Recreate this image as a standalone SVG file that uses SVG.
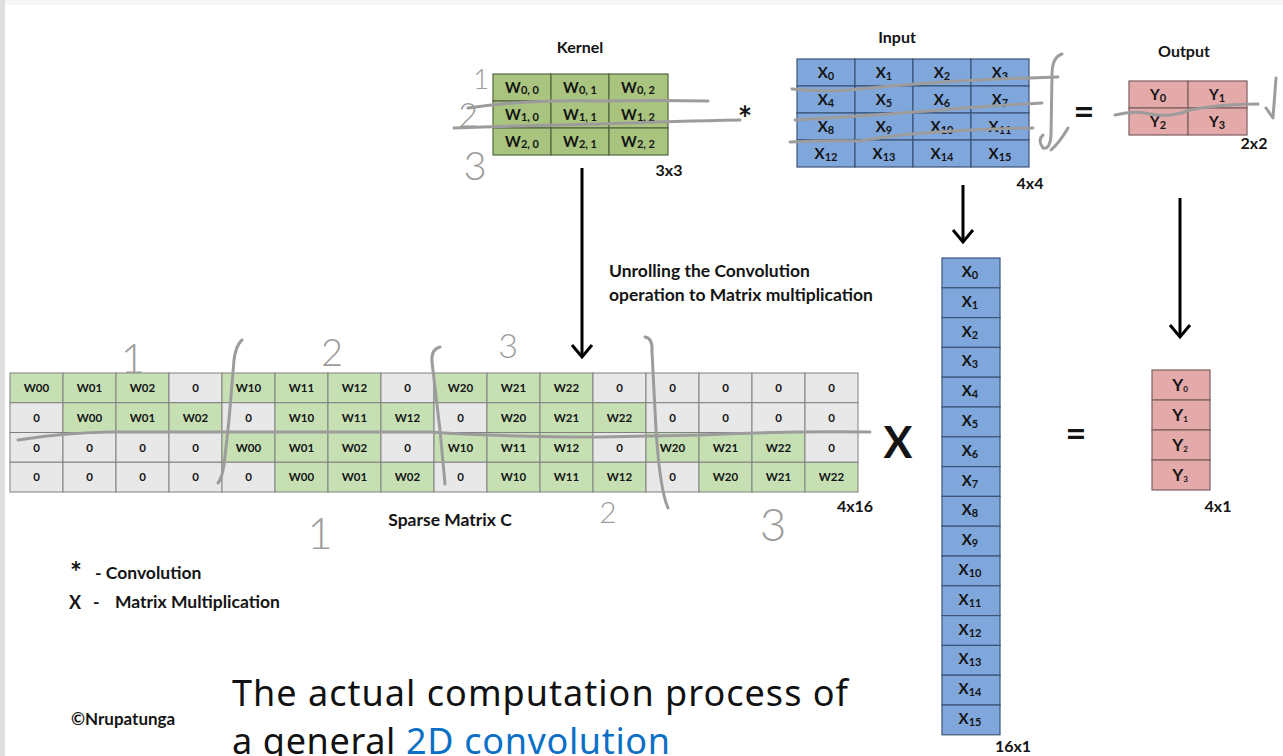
<svg xmlns="http://www.w3.org/2000/svg" width="1283" height="756" viewBox="0 0 1283 756">
<style>
.t{font-family:Lato,"Liberation Sans",sans-serif;font-weight:700;fill:#141414}
.m{text-anchor:middle}
.c{font-size:11.5px}
.k{font-size:15px}
.s{font-size:11px}
.lb{font-size:17.5px}
.h{font-size:16px}
.sg{fill:#c6e0b4;stroke:#808080;stroke-width:1}
.sz{fill:#e8e8e8;stroke:#808080;stroke-width:1}
.kg{fill:#a9c47f;stroke:#55663f;stroke-width:1.2}
.bl{fill:#80a7dc;stroke:#3b5478;stroke-width:1.2}
.pk{fill:#e4a9a9;stroke:#7b6060;stroke-width:1.2}
.hw{fill:none;stroke:#9c9c9c;stroke-width:3;stroke-linecap:round;stroke-linejoin:round}
.hd{font-family:Lato,"DejaVu Sans",sans-serif;font-weight:300;fill:#9c9c9c;text-anchor:middle}
.ar{fill:none;stroke:#000;stroke-width:3}
.cap{font-family:"Noto Sans","Open Sans",sans-serif;font-size:36px;fill:#111}
</style>
<defs>
<marker id="ah" markerUnits="userSpaceOnUse" markerWidth="16" markerHeight="24" refX="13" refY="12" orient="auto" overflow="visible">
<path d="M1,2 L13,12 L1,22" fill="none" stroke="#000" stroke-width="3"/>
</marker>
</defs>
<rect x="0" y="0" width="1283" height="756" fill="#fff"/>
<rect x="0" y="0" width="1283" height="5" fill="#f6f6f6"/>
<rect x="0" y="0" width="5" height="756" fill="#dedede"/>

<g id="kernel">
<text class="t m h" x="580" y="53">Kernel</text>
<rect class="kg" x="493" y="74" width="58" height="27"/><rect class="kg" x="551" y="74" width="58" height="27"/><rect class="kg" x="609" y="74" width="59" height="27"/>
<rect class="kg" x="493" y="101" width="58" height="27"/><rect class="kg" x="551" y="101" width="58" height="27"/><rect class="kg" x="609" y="101" width="59" height="27"/>
<rect class="kg" x="493" y="128" width="58" height="27"/><rect class="kg" x="551" y="128" width="58" height="27"/><rect class="kg" x="609" y="128" width="59" height="27"/>
<text class="t m k" x="522" y="93">W<tspan class="s" dy="1">0, 0</tspan></text>
<text class="t m k" x="580" y="93">W<tspan class="s" dy="1">0, 1</tspan></text>
<text class="t m k" x="638" y="93">W<tspan class="s" dy="1">0, 2</tspan></text>
<text class="t m k" x="522" y="120">W<tspan class="s" dy="1">1, 0</tspan></text>
<text class="t m k" x="580" y="120">W<tspan class="s" dy="1">1, 1</tspan></text>
<text class="t m k" x="638" y="120">W<tspan class="s" dy="1">1, 2</tspan></text>
<text class="t m k" x="522" y="147">W<tspan class="s" dy="1">2, 0</tspan></text>
<text class="t m k" x="580" y="147">W<tspan class="s" dy="1">2, 1</tspan></text>
<text class="t m k" x="638" y="147">W<tspan class="s" dy="1">2, 2</tspan></text>
<text class="t m h" x="669" y="176">3x3</text>
</g>

<g id="input">
<text class="t m h" x="897" y="43">Input</text>
<rect class="bl" x="797" y="59" width="58" height="27"/><rect class="bl" x="855" y="59" width="58" height="27"/><rect class="bl" x="913" y="59" width="58" height="27"/><rect class="bl" x="971" y="59" width="58" height="27"/>
<rect class="bl" x="797" y="86" width="58" height="27"/><rect class="bl" x="855" y="86" width="58" height="27"/><rect class="bl" x="913" y="86" width="58" height="27"/><rect class="bl" x="971" y="86" width="58" height="27"/>
<rect class="bl" x="797" y="113" width="58" height="27"/><rect class="bl" x="855" y="113" width="58" height="27"/><rect class="bl" x="913" y="113" width="58" height="27"/><rect class="bl" x="971" y="113" width="58" height="27"/>
<rect class="bl" x="797" y="140" width="58" height="27"/><rect class="bl" x="855" y="140" width="58" height="27"/><rect class="bl" x="913" y="140" width="58" height="27"/><rect class="bl" x="971" y="140" width="58" height="27"/>
<text class="t m k" x="826" y="78">X<tspan class="s" dy="2">0</tspan></text>
<text class="t m k" x="884" y="78">X<tspan class="s" dy="2">1</tspan></text>
<text class="t m k" x="942" y="78">X<tspan class="s" dy="2">2</tspan></text>
<text class="t m k" x="1000" y="78">X<tspan class="s" dy="2">3</tspan></text>
<text class="t m k" x="826" y="105">X<tspan class="s" dy="2">4</tspan></text>
<text class="t m k" x="884" y="105">X<tspan class="s" dy="2">5</tspan></text>
<text class="t m k" x="942" y="105">X<tspan class="s" dy="2">6</tspan></text>
<text class="t m k" x="1000" y="105">X<tspan class="s" dy="2">7</tspan></text>
<text class="t m k" x="826" y="132">X<tspan class="s" dy="2">8</tspan></text>
<text class="t m k" x="884" y="132">X<tspan class="s" dy="2">9</tspan></text>
<text class="t m k" x="942" y="132">X<tspan class="s" dy="2">10</tspan></text>
<text class="t m k" x="1000" y="132">X<tspan class="s" dy="2">11</tspan></text>
<text class="t m k" x="826" y="159">X<tspan class="s" dy="2">12</tspan></text>
<text class="t m k" x="884" y="159">X<tspan class="s" dy="2">13</tspan></text>
<text class="t m k" x="942" y="159">X<tspan class="s" dy="2">14</tspan></text>
<text class="t m k" x="1000" y="159">X<tspan class="s" dy="2">15</tspan></text>
<text class="t m h" x="1030" y="189">4x4</text>
</g>

<g id="output">
<text class="t m h" x="1184" y="57">Output</text>
<rect class="pk" x="1129" y="81" width="59" height="27"/><rect class="pk" x="1188" y="81" width="59" height="27"/>
<rect class="pk" x="1129" y="108" width="59" height="27"/><rect class="pk" x="1188" y="108" width="59" height="27"/>
<text class="t m k" x="1158" y="100">Y<tspan class="s" dy="2">0</tspan></text>
<text class="t m k" x="1217" y="100">Y<tspan class="s" dy="2">1</tspan></text>
<text class="t m k" x="1158" y="127">Y<tspan class="s" dy="2">2</tspan></text>
<text class="t m k" x="1217" y="127">Y<tspan class="s" dy="2">3</tspan></text>
<text class="t m h" x="1254" y="149">2x2</text>
</g>

<g id="operators">
<text class="t m" x="745" y="131" font-size="34">*</text>
<text class="t m" x="1084" y="124" font-size="36">=</text>
<text class="t m" x="898" y="458" font-size="43">X</text>
<text class="t m" x="1076" y="446" font-size="36">=</text>
</g>

<g id="unroll-label">
<text class="t lb" x="609" y="277">Unrolling the Convolution</text>
<text class="t lb" x="609" y="301">operation to Matrix multiplication</text>
</g>

<g id="sparse">
<g id="r0">
<rect class="sg" x="10" y="373" width="53" height="29.75"/><rect class="sg" x="63" y="373" width="53" height="29.75"/><rect class="sg" x="116" y="373" width="53" height="29.75"/><rect class="sz" x="169" y="373" width="53" height="29.75"/>
<rect class="sg" x="222" y="373" width="53" height="29.75"/><rect class="sg" x="275" y="373" width="53" height="29.75"/><rect class="sg" x="328" y="373" width="53" height="29.75"/><rect class="sz" x="381" y="373" width="53" height="29.75"/>
<rect class="sg" x="434" y="373" width="53" height="29.75"/><rect class="sg" x="487" y="373" width="53" height="29.75"/><rect class="sg" x="540" y="373" width="53" height="29.75"/><rect class="sz" x="593" y="373" width="53" height="29.75"/>
<rect class="sz" x="646" y="373" width="53" height="29.75"/><rect class="sz" x="699" y="373" width="53" height="29.75"/><rect class="sz" x="752" y="373" width="53" height="29.75"/><rect class="sz" x="805" y="373" width="53" height="29.75"/>
<text class="t m c" y="392"><tspan x="36.5">W00</tspan><tspan x="89.5">W01</tspan><tspan x="142.5">W02</tspan><tspan x="195.5">0</tspan><tspan x="248.5">W10</tspan><tspan x="301.5">W11</tspan><tspan x="354.5">W12</tspan><tspan x="407.5">0</tspan><tspan x="460.5">W20</tspan><tspan x="513.5">W21</tspan><tspan x="566.5">W22</tspan><tspan x="619.5">0</tspan><tspan x="672.5">0</tspan><tspan x="725.5">0</tspan><tspan x="778.5">0</tspan><tspan x="831.5">0</tspan></text>
</g>
<g id="r1">
<rect class="sz" x="10" y="402.75" width="53" height="29.75"/><rect class="sg" x="63" y="402.75" width="53" height="29.75"/><rect class="sg" x="116" y="402.75" width="53" height="29.75"/><rect class="sg" x="169" y="402.75" width="53" height="29.75"/>
<rect class="sz" x="222" y="402.75" width="53" height="29.75"/><rect class="sg" x="275" y="402.75" width="53" height="29.75"/><rect class="sg" x="328" y="402.75" width="53" height="29.75"/><rect class="sg" x="381" y="402.75" width="53" height="29.75"/>
<rect class="sz" x="434" y="402.75" width="53" height="29.75"/><rect class="sg" x="487" y="402.75" width="53" height="29.75"/><rect class="sg" x="540" y="402.75" width="53" height="29.75"/><rect class="sg" x="593" y="402.75" width="53" height="29.75"/>
<rect class="sz" x="646" y="402.75" width="53" height="29.75"/><rect class="sz" x="699" y="402.75" width="53" height="29.75"/><rect class="sz" x="752" y="402.75" width="53" height="29.75"/><rect class="sz" x="805" y="402.75" width="53" height="29.75"/>
<text class="t m c" y="422"><tspan x="36.5">0</tspan><tspan x="89.5">W00</tspan><tspan x="142.5">W01</tspan><tspan x="195.5">W02</tspan><tspan x="248.5">0</tspan><tspan x="301.5">W10</tspan><tspan x="354.5">W11</tspan><tspan x="407.5">W12</tspan><tspan x="460.5">0</tspan><tspan x="513.5">W20</tspan><tspan x="566.5">W21</tspan><tspan x="619.5">W22</tspan><tspan x="672.5">0</tspan><tspan x="725.5">0</tspan><tspan x="778.5">0</tspan><tspan x="831.5">0</tspan></text>
</g>
<g id="r2">
<rect class="sz" x="10" y="432.5" width="53" height="29.75"/><rect class="sz" x="63" y="432.5" width="53" height="29.75"/><rect class="sz" x="116" y="432.5" width="53" height="29.75"/><rect class="sz" x="169" y="432.5" width="53" height="29.75"/>
<rect class="sg" x="222" y="432.5" width="53" height="29.75"/><rect class="sg" x="275" y="432.5" width="53" height="29.75"/><rect class="sg" x="328" y="432.5" width="53" height="29.75"/><rect class="sz" x="381" y="432.5" width="53" height="29.75"/>
<rect class="sg" x="434" y="432.5" width="53" height="29.75"/><rect class="sg" x="487" y="432.5" width="53" height="29.75"/><rect class="sg" x="540" y="432.5" width="53" height="29.75"/><rect class="sz" x="593" y="432.5" width="53" height="29.75"/>
<rect class="sg" x="646" y="432.5" width="53" height="29.75"/><rect class="sg" x="699" y="432.5" width="53" height="29.75"/><rect class="sg" x="752" y="432.5" width="53" height="29.75"/><rect class="sz" x="805" y="432.5" width="53" height="29.75"/>
<text class="t m c" y="451.5"><tspan x="36.5">0</tspan><tspan x="89.5">0</tspan><tspan x="142.5">0</tspan><tspan x="195.5">0</tspan><tspan x="248.5">W00</tspan><tspan x="301.5">W01</tspan><tspan x="354.5">W02</tspan><tspan x="407.5">0</tspan><tspan x="460.5">W10</tspan><tspan x="513.5">W11</tspan><tspan x="566.5">W12</tspan><tspan x="619.5">0</tspan><tspan x="672.5">W20</tspan><tspan x="725.5">W21</tspan><tspan x="778.5">W22</tspan><tspan x="831.5">0</tspan></text>
</g>
<g id="r3">
<rect class="sz" x="10" y="462.25" width="53" height="29.75"/><rect class="sz" x="63" y="462.25" width="53" height="29.75"/><rect class="sz" x="116" y="462.25" width="53" height="29.75"/><rect class="sz" x="169" y="462.25" width="53" height="29.75"/>
<rect class="sz" x="222" y="462.25" width="53" height="29.75"/><rect class="sg" x="275" y="462.25" width="53" height="29.75"/><rect class="sg" x="328" y="462.25" width="53" height="29.75"/><rect class="sg" x="381" y="462.25" width="53" height="29.75"/>
<rect class="sz" x="434" y="462.25" width="53" height="29.75"/><rect class="sg" x="487" y="462.25" width="53" height="29.75"/><rect class="sg" x="540" y="462.25" width="53" height="29.75"/><rect class="sg" x="593" y="462.25" width="53" height="29.75"/>
<rect class="sz" x="646" y="462.25" width="53" height="29.75"/><rect class="sg" x="699" y="462.25" width="53" height="29.75"/><rect class="sg" x="752" y="462.25" width="53" height="29.75"/><rect class="sg" x="805" y="462.25" width="53" height="29.75"/>
<text class="t m c" y="481"><tspan x="36.5">0</tspan><tspan x="89.5">0</tspan><tspan x="142.5">0</tspan><tspan x="195.5">0</tspan><tspan x="248.5">0</tspan><tspan x="301.5">W00</tspan><tspan x="354.5">W01</tspan><tspan x="407.5">W02</tspan><tspan x="460.5">0</tspan><tspan x="513.5">W10</tspan><tspan x="566.5">W11</tspan><tspan x="619.5">W12</tspan><tspan x="672.5">0</tspan><tspan x="725.5">W20</tspan><tspan x="778.5">W21</tspan><tspan x="831.5">W22</tspan></text>
</g>
<text class="t m lb" x="450" y="526">Sparse Matrix C</text>
<text class="t m h" x="855" y="512">4x16</text>
</g>

<g id="vector-x">
<rect class="bl" x="942" y="258" width="58" height="29.8"/><rect class="bl" x="942" y="287.8" width="58" height="29.8"/><rect class="bl" x="942" y="317.6" width="58" height="29.8"/><rect class="bl" x="942" y="347.4" width="58" height="29.8"/>
<rect class="bl" x="942" y="377.2" width="58" height="29.8"/><rect class="bl" x="942" y="407" width="58" height="29.8"/><rect class="bl" x="942" y="436.8" width="58" height="29.8"/><rect class="bl" x="942" y="466.6" width="58" height="29.8"/>
<rect class="bl" x="942" y="496.4" width="58" height="29.8"/><rect class="bl" x="942" y="526.2" width="58" height="29.8"/><rect class="bl" x="942" y="556" width="58" height="29.8"/><rect class="bl" x="942" y="585.8" width="58" height="29.8"/>
<rect class="bl" x="942" y="615.6" width="58" height="29.8"/><rect class="bl" x="942" y="645.4" width="58" height="29.8"/><rect class="bl" x="942" y="675.2" width="58" height="29.8"/><rect class="bl" x="942" y="705" width="58" height="29.8"/>
<text class="t m k" x="970" y="277">X<tspan class="s" dy="2">0</tspan></text>
<text class="t m k" x="970" y="306.8">X<tspan class="s" dy="2">1</tspan></text>
<text class="t m k" x="970" y="336.6">X<tspan class="s" dy="2">2</tspan></text>
<text class="t m k" x="970" y="366.4">X<tspan class="s" dy="2">3</tspan></text>
<text class="t m k" x="970" y="396.2">X<tspan class="s" dy="2">4</tspan></text>
<text class="t m k" x="970" y="426">X<tspan class="s" dy="2">5</tspan></text>
<text class="t m k" x="970" y="455.8">X<tspan class="s" dy="2">6</tspan></text>
<text class="t m k" x="970" y="485.6">X<tspan class="s" dy="2">7</tspan></text>
<text class="t m k" x="970" y="515.4">X<tspan class="s" dy="2">8</tspan></text>
<text class="t m k" x="970" y="545.2">X<tspan class="s" dy="2">9</tspan></text>
<text class="t m k" x="970" y="575">X<tspan class="s" dy="2">10</tspan></text>
<text class="t m k" x="970" y="604.8">X<tspan class="s" dy="2">11</tspan></text>
<text class="t m k" x="970" y="634.6">X<tspan class="s" dy="2">12</tspan></text>
<text class="t m k" x="970" y="664.4">X<tspan class="s" dy="2">13</tspan></text>
<text class="t m k" x="970" y="694.2">X<tspan class="s" dy="2">14</tspan></text>
<text class="t m k" x="970" y="724">X<tspan class="s" dy="2">15</tspan></text>
<text class="t m h" x="1013" y="752">16x1</text>
</g>

<g id="vector-y">
<rect class="pk" x="1152" y="370" width="58" height="30"/><rect class="pk" x="1152" y="400" width="58" height="30"/><rect class="pk" x="1152" y="430" width="58" height="30"/><rect class="pk" x="1152" y="460" width="58" height="30"/>
<text class="t m" x="1180" y="391" font-size="17">Y<tspan dy="1" font-size="8">0</tspan></text>
<text class="t m" x="1180" y="421" font-size="17">Y<tspan dy="1" font-size="8">1</tspan></text>
<text class="t m" x="1180" y="451" font-size="17">Y<tspan dy="1" font-size="8">2</tspan></text>
<text class="t m" x="1180" y="481" font-size="17">Y<tspan dy="1" font-size="8">3</tspan></text>
<text class="t m h" x="1218" y="512">4x1</text>
</g>

<g id="connectors">
<line class="ar" x1="582" y1="168" x2="582" y2="357" marker-end="url(#ah)"/>
<line class="ar" x1="963" y1="185" x2="963" y2="242" marker-end="url(#ah)"/>
<line class="ar" x1="1180" y1="198" x2="1180" y2="337" marker-end="url(#ah)"/>
</g>

<g id="legend">
<text class="t" x="70" y="582" font-size="28">*</text>
<text class="t lb" x="95" y="579">-  Convolution</text>
<text class="t" x="69" y="609" font-size="18">X</text>
<text class="t lb" x="93" y="608">-</text>
<text class="t lb" x="115" y="608">Matrix Multiplication</text>
<text class="t" x="71" y="725" font-size="17">©Nrupatunga</text>
</g>

<g id="caption">
<text class="cap" x="232" y="706" textLength="616" lengthAdjust="spacing">The actual computation process of</text>
<text class="cap" x="232" y="754" textLength="438" lengthAdjust="spacing">a general <tspan fill="#0b6fc6">2D convolution</tspan></text>
</g>

<g id="annotations">
<path class="hw" d="M468,108 Q530,99 600,101 Q660,100 708,101"/>
<path class="hw" d="M454,128 Q540,125 600,124 Q680,121 740,120"/>
<path class="hw" d="M792,89 Q830,93 870,88 Q950,80 1058,77"/>
<path class="hw" d="M795,120 Q880,115 940,110 Q1000,105 1042,103"/>
<path class="hw" d="M790,142 Q830,140 860,141 Q920,130 1033,128"/>
<path class="hw" d="M1062,54 Q1052,57 1052,75 L1051,135 Q1050,150 1043,148 Q1037,140 1043,135"/>
<path class="hw" d="M1051,150 Q1060,142 1068,128"/>
<path class="hw" d="M1115,115 Q1135,110 1150,114 Q1170,118 1190,110 Q1220,104 1258,104"/>
<path class="hw" d="M1276,78 L1273,118 L1266,108"/>
<path class="hw" d="M18,440 Q60,433 110,432 L430,432 Q500,437 600,437 L700,435 Q780,431 870,432"/>
<path class="hw" d="M242,340 Q236,345 234,360 L229,420 L224,465 Q222,478 218,483"/>
<path class="hw" d="M440,347 Q431,349 432,362 L440,430 L445,484"/>
<path class="hw" d="M645,337 Q653,338 652,352 L656,430 Q660,490 668,508"/>
<text class="hd" x="481" y="89" font-size="28">1</text>
<text class="hd" x="468" y="127" font-size="34">2</text>
<text class="hd" x="475" y="180" font-size="40">3</text>
<text class="hd" x="133" y="373" font-size="42">1</text>
<text class="hd" x="332" y="366" font-size="38">2</text>
<text class="hd" x="508" y="358" font-size="34">3</text>
<text class="hd" x="320" y="549" font-size="44">1</text>
<text class="hd" x="608" y="523" font-size="30">2</text>
<text class="hd" x="773" y="541" font-size="46">3</text>
</g>
</svg>
